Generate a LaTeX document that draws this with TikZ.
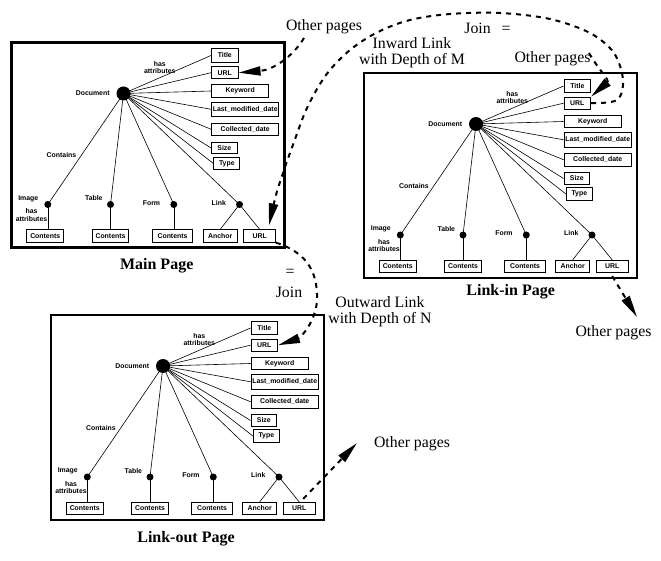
\documentclass[tikz,border=0pt]{standalone}
\usepackage{fontspec}
\setmainfont{Liberation Serif}
\newfontfamily\lblfam{Liberation Sans}
\usetikzlibrary{arrows.meta}
\newcommand\lblfont{\lblfam\bfseries\fontsize{6.9}{7.3}\selectfont}
\newcommand\notefont{\fontsize{15.8}{15.6}\selectfont}
\newcommand\ptitlefont{\bfseries\fontsize{16}{18}\selectfont}

\tikzset{
  lbl/.style={font=\lblfont, inner sep=0pt, align=center},
  abox/.style={draw, line width=0.8pt, inner sep=0pt, font=\lblfont, minimum height=12.4pt},
  bigdot/.style={circle, fill, inner sep=0pt, minimum size=14pt},
  subdot/.style={circle, fill, inner sep=0pt, minimum size=7pt},
  tie/.style={line width=0.6pt},
  jump/.style={line width=2pt, dash pattern=on 5pt off 5pt, -{Triangle[length=22pt,width=9pt]}},
  note/.style={font=\notefont, align=center, inner sep=0pt},
  ptitle/.style={font=\ptitlefont, inner sep=0pt},
  page/.pic={
    \draw[line width=2.5pt] (0,0) rectangle (273,205);
    \node[bigdot] (-doc) at (112,51) {};
    \node[abox, minimum width=26.7pt, minimum height=13.4pt] (-title) at (213.3,13) {Title};
    \node[abox, minimum width=26.7pt] (-url) at (213.3,30.2) {URL};
    \node[abox, minimum width=57.3pt] (-kw) at (228.7,48.5) {Keyword};
    \node[abox, minimum width=67.3pt, minimum height=14.3pt] (-lmd) at (233.7,66.8) {Last\_modified\_date};
    \node[abox, minimum width=67.3pt] (-cd) at (233.7,86.8) {Collected\_date};
    \node[abox, minimum width=25.7pt, minimum height=11.6pt] (-size) at (212.8,105.5) {Size};
    \node[abox, minimum width=26pt, minimum height=12.6pt] (-type) at (215.3,121) {Type};
    \node[subdot] (-img) at (36.3,162) {};
    \node[subdot] (-tab) at (99,162) {};
    \node[subdot] (-form) at (162.3,162) {};
    \node[subdot] (-link) at (228,162) {};
    \node[abox, minimum width=37.3pt] (-imgc) at (33.7,193.5) {Contents};
    \node[abox, minimum width=36.7pt] (-tabc) at (99,193.5) {Contents};
    \node[abox, minimum width=40.7pt] (-formc) at (161,193.5) {Contents};
    \node[abox, minimum width=34pt] (-anchor) at (208.7,193.5) {Anchor};
    \node[abox, minimum width=31.7pt] (-lurl) at (248.2,193.5) {URL};
    \foreach \b in {title,url,kw,lmd,cd,size,type} \draw[tie] (-doc.center) -- (-\b.west);
    \foreach \c in {img,tab,form,link} \draw[tie] (-doc.center) -- (-\c.center);
    \draw[tie] (-img.center) -- (-img.center |- -imgc.north);
    \draw[tie] (-tab.center) -- (-tab.center |- -tabc.north);
    \draw[tie] (-form.center) -- (-form.center |- -formc.north);
    \draw[tie] (-link.center) -- (-anchor.north);
    \draw[tie] (-link.center) -- (-lurl.north);
    \node[lbl] (-hasa) at (148.3,24.7) {has\\attributes};
    \node[lbl, anchor=east] (-doclbl) at (98.3,51) {Document};
    \node[lbl] (-contains) at (50,113) {Contains};
    \node[lbl] (-imglbl) at (16.8,156.3) {Image};
    \node[lbl] (-hasb) at (20,172.5) {has\\attributes};
    \node[lbl] (-tablbl) at (82.3,156) {Table};
    \node[lbl] (-formlbl) at (140,160.3) {Form};
    \node[lbl] (-linklbl) at (207.3,160.3) {Link};
  }
}

\begin{document}
\begin{tikzpicture}[x=1pt, y=-1pt]
  \useasboundingbox (0,0) rectangle (661,561);

  \pic (main) at (11.5,42.5) {page};
  \pic (in) at (364,73) {page};
  \pic (lo) at (51,315) {page};

  \node[ptitle] (maint) at (156.7,265.5) {Main Page};
  \node[ptitle] (intitle) at (510.7,291.7) {Link-in Page};
  \node[ptitle] (lotitle) at (186,539) {Link-out Page};

  \node[note] (op1) at (324,27) {Other pages};
  \node[note] (join1) at (487.5,28.5) {Join\hspace{11pt}=};
  \node[note] (inward) at (412,52.6) {Inward Link\\with Depth of M};
  \node[note] (op2) at (552.5,59) {Other pages};
  \node[note] (eq2) at (290,273) {=};
  \node[note] (join2) at (289,292.7) {Join};
  \node[note] (outward) at (380,312) {Outward Link\\with Depth of N};
  \node[note] (op3) at (412,444) {Other pages};
  \node[note] (op4) at (613.5,332.5) {Other pages};

  \coordinate (a0) at (304,38);
  \coordinate (b1) at ([xshift=-7pt,yshift=4pt]main-lurl.north east);
  \coordinate (c0) at (589,53);
  \coordinate (e0) at ([xshift=4pt,yshift=3pt]lo-lurl.north);
  \coordinate (e1) at (357,443);
  \coordinate (f0) at ([yshift=-3pt]in-lurl.south);
  \coordinate (f1) at (637,317);

  \draw[jump] (a0) .. controls (292,58) and (272,70) .. (main-url.east);
  \draw[jump] plot[smooth, tension=0.55] coordinates {(in-url.east) (617,100) (623,80) (614,53) (590,33) (550,19) (500,13) (450,14) (410,20) (378,32) (350,50) (326,75) (307,108) (294,142) (284,170) (276,195) (b1)};
  \draw[jump] (c0) .. controls (600,72) and (610,80) .. (in-url.north east);
  \draw[jump] (main-lurl.south east) .. controls (305,252) and (318,270) .. (317,300) .. controls (316,322) and (300,338) .. (lo-url.east);
  \draw[jump] (e0) -- (e1);
  \draw[jump] (f0) -- (f1);
\end{tikzpicture}
\end{document}
